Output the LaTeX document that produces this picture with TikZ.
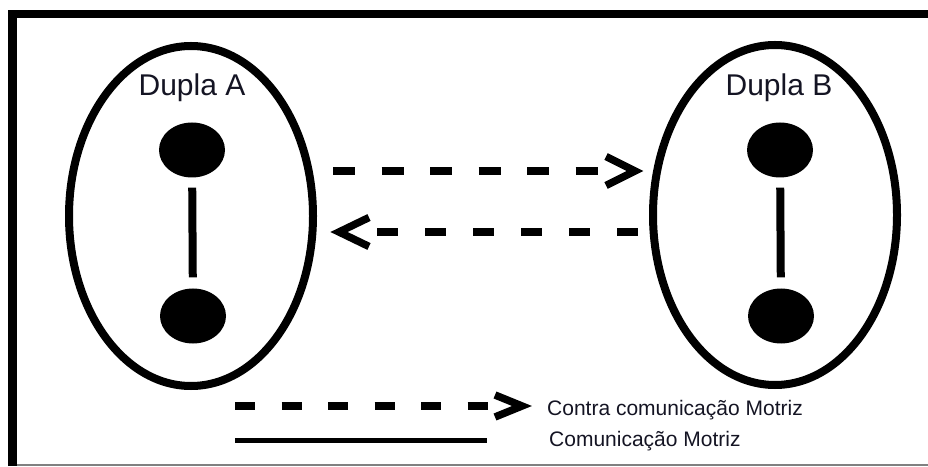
\documentclass[tikz,border=0pt]{standalone}
\usepackage{fontspec}
\setmainfont{Liberation Sans}
\usetikzlibrary{shapes.geometric}
\definecolor{txt}{RGB}{20,20,35}
\begin{document}
\begin{tikzpicture}[x=1pt,y=1pt,
  group/.style={ellipse, draw, line width=8pt, inner sep=0pt, minimum width=244pt, minimum height=340pt},
  player/.style={ellipse, fill=black, inner sep=0pt, minimum width=66pt, minimum height=55pt},
  link/.style={line width=8pt, shorten <=10pt, shorten >=11pt},
  dashA/.style={line width=8pt, dash pattern=on 22pt off 26.5pt},
  dashB/.style={line width=8pt, dash pattern=on 21pt off 27pt},
  dashL/.style={line width=8pt, dash pattern=on 20pt off 26.5pt},
  chev/.style={line width=7.5pt, line join=miter},
  lbl/.style={font=\fontsize{30}{31}\selectfont, anchor=base, text=txt},
  leg/.style={font=\fontsize{21}{23}\selectfont, anchor=base west, text=txt, inner sep=0pt}]
\useasboundingbox (0,0) rectangle (928,466);
% frame
\draw[line width=8.5pt, line join=miter] (12.5,0) -- (12.5,452) -- (928,452);
\draw[line width=1.2pt, gray] (17,1) -- (928,1);
% groups
\node[group] (A) at (191,250) {};
\node[group] (B) at (775,251) {};
\node[lbl] (la) at (192,370) {Dupla A};
\node[lbl] (lb) at (779,370) {Dupla B};
% players
\node[player] (a1) at (192,316) {};
\node[player] (a2) at (193,150) {};
\node[player] (b1) at (780,316) {};
\node[player] (b2) at (781,150) {};
\draw[link] (a1) -- (a2);
\draw[link] (b1) -- (b2);
% arrow A -> B
\coordinate (s1) at (333,295);
\coordinate (e1) at (597.5,295);
\coordinate (h1) at (635,295);
\draw[dashA] (s1) -- (e1);
\draw[chev] ([shift={(-29,14.5)}]h1) -- (h1) -- ([shift={(-29,-14.5)}]h1);
% arrow B -> A
\coordinate (s2) at (638,234);
\coordinate (e2) at (377,234);
\coordinate (h2) at (339,234);
\draw[dashB] (e2) -- (s2);
\draw[chev] ([shift={(30,14.5)}]h2) -- (h2) -- ([shift={(30,-14.5)}]h2);
% legend
\coordinate (l1s) at (235,60);
\coordinate (l1e) at (487.5,60);
\coordinate (l1h) at (522,60);
\draw[dashL] (l1s) -- (l1e);
\draw[chev] ([shift={(-27,11)}]l1h) -- (l1h) -- ([shift={(-27,-11)}]l1h);
\coordinate (l2s) at (235,26);
\coordinate (l2e) at (487,26);
\draw[line width=5pt] (l2s) -- (l2e);
\node[leg] (t1) at (547,51) {Contra comunicação Motriz};
\node[leg] (t2) at (549,20) {Comunicação Motriz};
\end{tikzpicture}
\end{document}
